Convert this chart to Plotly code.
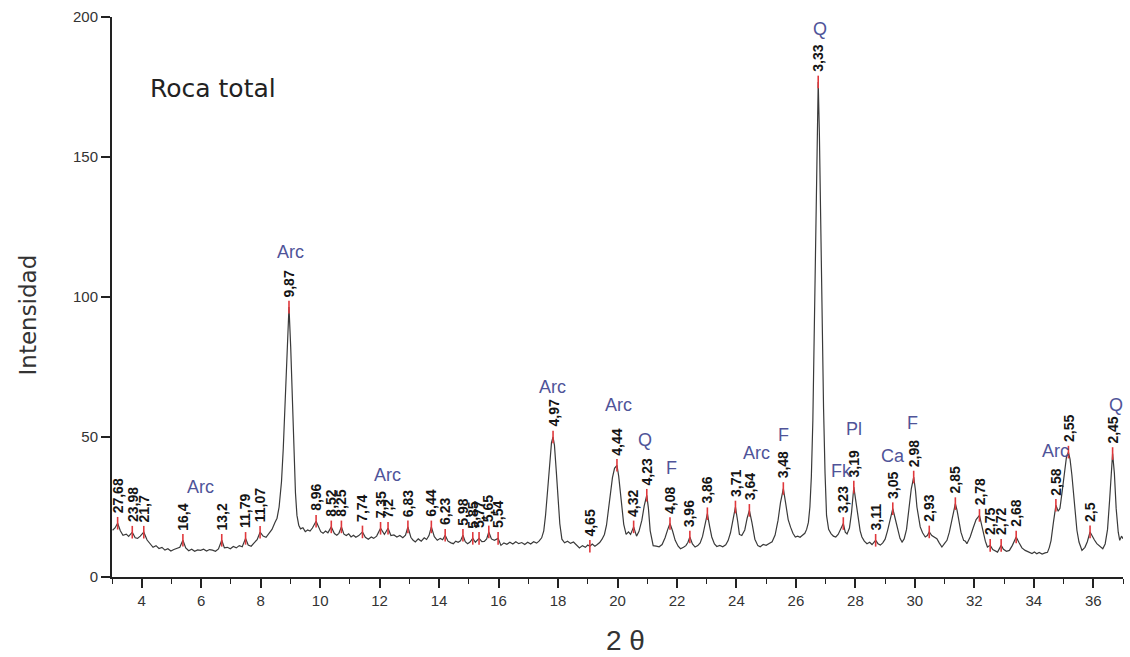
import math
import plotly.graph_objects as go

# X-ray diffraction scan of the whole-rock sample (Cu K-alpha)
CU_KALPHA = 1.5406  # wavelength in angstrom

# Scan points between labelled reflections: 2-theta (deg) and counts
scan_2theta = [
    3.02, 3.10, 3.28, 3.37, 3.48, 3.56, 3.78, 3.86, 3.95, 4.18, 4.28, 4.38, 4.48, 4.58,
    4.68, 4.78, 4.88, 4.98, 5.08, 5.18, 5.28, 5.48, 5.58, 5.68, 5.78, 5.88, 5.98, 6.08,
    6.18, 6.28, 6.38, 6.48, 6.58, 6.78, 6.88, 6.98, 7.08, 7.18, 7.28, 7.38, 7.58, 7.68,
    7.78, 7.88, 8.08, 8.18, 8.28, 8.38, 8.48, 8.55, 8.62, 8.70, 8.76, 8.82, 8.88, 9.01,
    9.07, 9.12, 9.17, 9.22, 9.28, 9.34, 9.42, 9.50, 9.58, 9.66, 9.74, 9.95, 10.02, 10.10,
    10.18, 10.26, 10.48, 10.56, 10.63, 10.80, 10.88, 10.96, 11.04, 11.12, 11.20, 11.30,
    11.52, 11.62, 11.72, 11.80, 11.90, 12.16, 12.38, 12.48, 12.58, 12.68, 12.78, 12.87,
    13.05, 13.12, 13.20, 13.30, 13.40, 13.50, 13.58, 13.66, 13.84, 13.94, 14.04, 14.12,
    14.30, 14.40, 14.48, 14.56, 14.64, 14.72, 14.88, 14.96, 15.04, 15.22, 15.44, 15.52,
    15.60, 15.76, 15.86, 16.08, 16.18, 16.28, 16.38, 16.48, 16.58, 16.68, 16.78, 16.88,
    16.98, 17.08, 17.18, 17.28, 17.36, 17.45, 17.52, 17.58, 17.65, 17.72, 17.78, 17.88,
    17.94, 18.00, 18.06, 18.13, 18.22, 18.32, 18.42, 18.52, 18.62, 18.72, 18.82, 18.92,
    19.00, 19.15, 19.24, 19.32, 19.40, 19.48, 19.56, 19.63, 19.70, 19.76, 19.83, 19.90,
    20.04, 20.09, 20.15, 20.21, 20.29, 20.37, 20.44, 20.64, 20.72, 20.82, 20.90, 21.04,
    21.10, 21.20, 21.30, 21.40, 21.50, 21.60, 21.69, 21.85, 21.94, 22.04, 22.12, 22.22,
    22.30, 22.37, 22.52, 22.61, 22.70, 22.78, 22.86, 22.93, 23.10, 23.17, 23.26, 23.34,
    23.44, 23.54, 23.64, 23.72, 23.80, 23.88, 24.04, 24.10, 24.18, 24.28, 24.36, 24.52,
    24.62, 24.72, 24.80, 24.90, 25.00, 25.10, 25.20, 25.30, 25.40, 25.48, 25.66, 25.74,
    25.82, 25.90, 25.98, 26.06, 26.14, 26.22, 26.30, 26.36, 26.42, 26.47, 26.52, 26.57,
    26.62, 26.67, 26.71, 26.79, 26.83, 26.88, 26.93, 26.98, 27.03, 27.10, 27.18, 27.26,
    27.34, 27.42, 27.50, 27.66, 27.72, 27.80, 27.87, 28.03, 28.10, 28.16, 28.22, 28.30,
    28.39, 28.48, 28.56, 28.62, 28.76, 28.84, 28.92, 29.00, 29.08, 29.16, 29.34, 29.42,
    29.50, 29.57, 29.64, 29.72, 29.80, 29.88, 30.02, 30.07, 30.13, 30.18, 30.26, 30.35,
    30.42, 30.57, 30.66, 30.74, 30.82, 30.91, 31.00, 31.08, 31.16, 31.24, 31.30, 31.42,
    31.47, 31.55, 31.64, 31.70, 31.75, 31.86, 31.96, 32.06, 32.24, 32.30, 32.37, 32.44,
    32.62, 32.70, 32.78, 32.98, 33.08, 33.18, 33.28, 33.34, 33.50, 33.60, 33.71, 33.82,
    33.94, 34.02, 34.10, 34.18, 34.28, 34.38, 34.46, 34.52, 34.58, 34.66, 34.82, 34.88,
    34.96, 35.04, 35.10, 35.22, 35.28, 35.34, 35.40, 35.45, 35.52, 35.62, 35.72, 35.80,
    35.96, 36.04, 36.12, 36.22, 36.32, 36.40, 36.48, 36.55, 36.60, 36.71, 36.77, 36.84,
    36.89, 36.95, 37.00,
]
scan_counts = [
    16.7, 17.5, 16.5, 14.9, 15.3, 14.5, 14.0, 13.8, 14.6, 13.2, 11.8, 10.6, 11.2, 10.2,
    10.6, 9.6, 10.1, 9.3, 9.8, 10.3, 10.6, 10.4, 9.4, 9.9, 9.2, 9.7, 9.5, 9.9,
    9.3, 9.8, 9.6, 9.2, 10.0, 10.4, 10.6, 10.1, 10.9, 10.4, 11.2, 10.8, 11.4, 11.0,
    12.2, 13.3, 14.6, 14.2, 15.5, 17.0, 19.5, 21.0, 25.0, 34.0, 46.0, 62.0, 80.0, 82.0,
    62.0, 44.0, 30.0, 22.0, 18.5, 17.2, 17.6, 16.2, 16.8, 16.4, 17.5, 17.5, 16.2, 15.6,
    16.4, 15.8, 15.5, 14.9, 15.6, 15.3, 14.8, 15.4, 14.3, 14.9, 14.2, 14.8,
    14.2, 13.5, 14.3, 13.8, 14.6, 15.2, 14.8, 15.0, 14.3, 14.8, 14.0, 14.9,
    14.2, 13.2, 12.5, 13.6, 12.8, 14.0, 13.4, 14.8, 14.4, 13.1, 13.8, 13.3,
    12.8, 12.2, 11.9, 12.8, 12.4, 12.9, 12.6, 11.9, 12.5, 12.4, 12.6, 12.7,
    13.6, 13.6, 13.1, 11.3, 12.2, 11.7, 12.4, 11.8, 12.6, 11.9, 12.3, 11.6,
    12.4, 11.8, 12.6, 12.1, 12.8, 14.0, 16.5, 22.0, 31.0, 41.0, 48.0, 47.0,
    38.0, 28.0, 19.0, 13.5, 12.2, 12.8, 12.0, 12.5, 11.6, 10.4, 11.2, 10.6,
    11.4, 11.8, 11.0, 11.6, 12.3, 13.5, 15.2, 18.5, 24.0, 30.0, 35.5, 38.8,
    36.0, 30.5, 24.0, 18.8, 15.2, 16.1, 15.2, 14.6, 16.2, 20.3, 25.5, 24.5,
    16.5, 11.2, 11.0, 10.8, 11.6, 14.0, 17.0, 16.5, 13.1, 11.0, 10.1, 10.6,
    11.2, 12.4, 11.8, 10.7, 11.2, 12.2, 14.5, 18.0, 18.0, 14.3, 11.8, 10.9,
    11.3, 10.8, 11.5, 13.0, 15.8, 20.5, 20.0, 15.2, 14.8, 16.8, 21.0, 19.5,
    13.5, 11.2, 10.8, 11.6, 11.3, 12.0, 12.6, 15.0, 20.3, 26.5, 26.0, 20.5,
    17.8, 15.6, 14.3, 14.6, 14.2, 14.9, 15.6, 17.0, 19.5, 25.0, 36.0, 56.0,
    88.0, 126.0, 158.0, 158.0, 126.0, 88.0, 60.0, 37.0, 22.0, 17.0, 15.5, 14.6,
    14.3, 15.2, 16.8, 16.0, 15.4, 17.5, 23.0, 26.5, 21.4, 16.5, 14.3, 12.8,
    11.9, 12.4, 11.6, 12.2, 11.9, 11.4, 12.2, 13.5, 16.5, 20.5, 20.8, 16.7,
    13.8, 12.5, 13.6, 17.0, 23.5, 31.5, 31.0, 25.0, 20.5, 17.9, 15.8, 14.3,
    14.8, 14.8, 14.2, 13.7, 12.2, 10.7, 12.0, 13.1, 16.0, 20.0, 23.5, 23.8,
    20.3, 16.0, 13.1, 12.8, 11.9, 14.3, 17.5, 20.5, 18.5, 15.5, 12.8, 10.7,
    9.8, 9.2, 8.9, 9.9, 9.2, 9.5, 11.3, 12.8, 12.3, 10.4, 9.5, 9.0,
    8.4, 8.9, 8.3, 8.8, 8.2, 8.6, 8.8, 10.5, 13.0, 19.5, 23.5, 24.5,
    31.0, 38.5, 43.0, 42.0, 36.5, 28.6, 21.0, 16.7, 12.5, 9.5, 10.6, 12.6,
    14.6, 13.2, 11.9, 11.0, 10.1, 11.8, 17.0, 27.5, 37.0, 37.0, 24.5, 16.0,
    13.1, 14.6, 13.7,
]

# Labelled reflections: d-spacing (angstrom) and peak counts
peak_d_labels = [
    "27,68", "23,98", "21,7", "16,4", "13,2", "11,79", "11,07", "9,87", "8,96", "8,52",
    "8,25", "7,74", "7,35", "7,2", "6,83", "6,44", "6,23", "5,98", "5,85", "5,77",
    "5,65", "5,54", "4,97", "4,65", "4,44", "4,32", "4,23", "4,08", "3,96", "3,86",
    "3,71", "3,64", "3,48", "3,33", "3,23", "3,19", "3,11", "3,05", "2,98", "2,93",
    "2,85", "2,78", "2,75", "2,72", "2,68", "2,58", "2,55", "2,5", "2,45",
]
peak_counts = [
    19.2, 16.0, 16.0, 13.1, 13.1, 13.8, 16.0, 96.4, 19.9, 17.9,
    17.9, 16.1, 17.4, 17.4, 17.9, 17.9, 14.9, 14.9, 13.8, 13.8,
    16.1, 13.8, 50.0, 11.0, 39.9, 17.9, 29.2, 19.1, 14.3, 22.6,
    25.0, 23.8, 31.6, 176.8, 19.1, 32.1, 13.1, 24.4, 35.7, 16.1,
    26.2, 22.0, 11.3, 11.3, 14.3, 25.6, 44.6, 16.1, 44.1,
]

# Mineral phase labels: Arc = arcillas, Q = cuarzo, F = feldespato,
# Fk = feldespato potásico, Pl = plagioclasa, Ca = calcita
phase_names = ["Arc", "Arc", "Arc", "Arc", "Arc", "Q", "F", "Arc", "F", "Q",
               "Fk", "Pl", "Ca", "F", "Arc", "Q"]
phase_2theta = [5.96, 8.99, 12.27, 17.83, 20.02, 20.91, 21.83, 24.66, 25.57, 26.81,
                27.52, 27.96, 29.25, 29.91, 34.72, 36.75]
phase_counts = [32.0, 116.0, 36.5, 67.9, 61.5, 48.8, 39.0, 44.2, 50.6, 195.6,
                37.8, 52.9, 43.3, 55.0, 44.9, 61.3]

x_ticks = list(range(4, 37, 2))
y_ticks = [0, 50, 100, 150, 200]


def two_theta_from_d(d_text):
    d = float(d_text.replace(",", "."))
    return 2.0 * math.degrees(math.asin(CU_KALPHA / (2.0 * d)))


peak_2theta = [two_theta_from_d(s) for s in peak_d_labels]

# full trace: scan points plus the labelled peak maxima, in 2-theta order
trace = sorted(zip(scan_2theta + peak_2theta, scan_counts + peak_counts))
trace_x = [p[0] for p in trace]
trace_y = [p[1] for p in trace]

fig = go.Figure()
fig.add_trace(go.Scatter(
    x=trace_x, y=trace_y, mode="lines",
    line=dict(color="#3a3a3a", width=1.2),
    hoverinfo="skip", showlegend=False,
))
fig.add_trace(go.Scatter(
    x=peak_2theta, y=peak_counts, mode="markers",
    marker=dict(symbol="line-ns", size=9, line=dict(color="#e0383c", width=1.6)),
    hoverinfo="skip", showlegend=False,
))

annotations = []
for x, y, txt in zip(peak_2theta, peak_counts, peak_d_labels):
    annotations.append(dict(
        x=x, y=y, xref="x", yref="y", text="<b>" + txt + "</b>", showarrow=False,
        textangle=-90, xanchor="center", yanchor="bottom", yshift=8,
        font=dict(family="Liberation Sans, Arial, sans-serif", size=14, color="#151515"),
    ))
for x, y, txt in zip(phase_2theta, phase_counts, phase_names):
    annotations.append(dict(
        x=x, y=y, xref="x", yref="y", text=txt, showarrow=False,
        xanchor="center", yanchor="middle",
        font=dict(family="Liberation Sans, Arial, sans-serif", size=18, color="#4f5499"),
    ))

annotations.append(dict(
    x=4.21, y=174.4, xref="x", yref="y", text="Roca total", showarrow=False,
    xanchor="left", yanchor="middle",
    font=dict(family="DejaVu Sans, Verdana, sans-serif", size=25, color="#222222"),
))
annotations.append(dict(
    x=0, y=0.467, xref="paper", yref="paper", text="Intensidad", showarrow=False,
    textangle=-90, xanchor="center", yanchor="middle", xshift=-84,
    font=dict(family="DejaVu Sans, Verdana, sans-serif", size=23, color="#333333"),
))
annotations.append(dict(
    x=20.26, y=0, xref="x", yref="paper", text="2 θ", showarrow=False,
    xanchor="center", yanchor="middle", yshift=-63,
    font=dict(family="Liberation Sans Narrow, Liberation Sans, Arial, sans-serif",
              size=28, color="#333333"),
))

fig.update_layout(
    width=1130, height=657,
    margin=dict(l=112, r=7, t=17, b=80),
    paper_bgcolor="white", plot_bgcolor="white",
    annotations=annotations,
    xaxis=dict(
        range=[3, 37], tickvals=x_ticks, ticks="outside", ticklen=9, tickwidth=1.5,
        tickcolor="#222222", showline=True, linecolor="#222222", linewidth=2,
        showgrid=False, zeroline=False,
        minor=dict(tickvals=list(range(3, 38, 2)), ticks="outside", ticklen=5,
                   tickwidth=1.3, tickcolor="#222222"),
        tickfont=dict(family="Liberation Sans Narrow, Liberation Sans, Arial, sans-serif",
                      size=15, color="#333333"),
    ),
    yaxis=dict(
        range=[0, 200], tickvals=y_ticks, ticks="outside", ticklen=9, tickwidth=1.5,
        tickcolor="#222222", showline=True, linecolor="#222222", linewidth=2,
        showgrid=False, zeroline=False,
        tickfont=dict(family="Liberation Sans, Arial, sans-serif", size=15, color="#333333"),
    ),
)

fig.write_html("out.html")
